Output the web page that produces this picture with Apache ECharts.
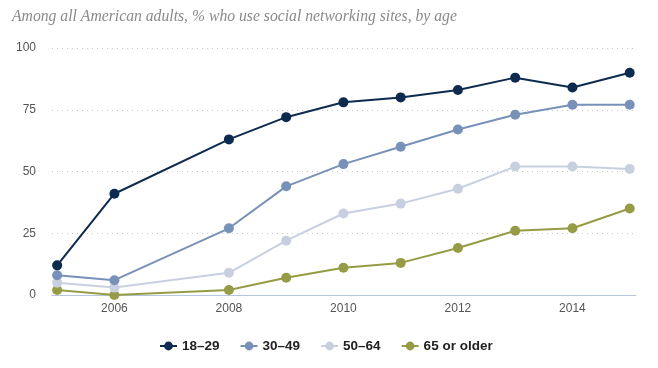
<!DOCTYPE html>
<html>
<head>
<meta charset="utf-8">
<script src="https://cdn.jsdelivr.net/npm/echarts@6/dist/echarts.min.js"></script>
<style>
html,body{margin:0;padding:0;background:#fff;}
#c{width:658px;height:368px;}
</style>
</head>
<body>
<div id="c"></div>
<script>
var titleText = "Among all American adults, % who use social networking sites, by age";
var years = [2005, 2006, 2008, 2009, 2010, 2011, 2012, 2013, 2014, 2015];
var xTickLabels = [2006, 2008, 2010, 2012, 2014];
var yTicks = [0, 25, 50, 75, 100];
var seriesNames = ["18–29", "30–49", "50–64", "65 or older"];
var age18_29 = [12, 41, 63, 72, 78, 80, 83, 88, 84, 90];
var age30_49 = [8, 6, 27, 44, 53, 60, 67, 73, 77, 77];
var age50_64 = [5, 3, 9, 22, 33, 37, 43, 52, 52, 51];
var age65plus = [2, 0, 2, 7, 11, 13, 19, 26, 27, 35];
var colors = ["#0d2b4e", "#7891b8", "#c8d0e0", "#959c45"];

var allValues = [age18_29, age30_49, age50_64, age65plus];
function pairs(vals){ return years.map(function(y,i){ return [y, vals[i]]; }); }

var chart = echarts.init(document.getElementById('c'), null, {renderer:'canvas'});
chart.setOption({
  animation: false,
  title: {
    text: titleText,
    left: 7, top: 4,
    textStyle: {fontFamily: "Liberation Serif", fontStyle: "italic", fontWeight: "normal", fontSize: 15.7, color: "#8a8a8a"}
  },
  legend: {
    left: 154, top: 334,
    itemWidth: 17, itemHeight: 11, itemGap: 20,
    textStyle: {fontFamily: "Liberation Sans", fontWeight: "bold", fontSize: 13.5, color: "#222"},
    data: seriesNames
  },
  grid: {left: 52, right: 22, top: 48, bottom: 73},
  xAxis: {
    type: 'value', min: 2004.91, max: 2015.11,
    axisLine: {show: true, lineStyle: {color: "#b5c7dc", width: 1}},
    axisTick: {show: false},
    splitLine: {show: false},
    axisLabel: {customValues: xTickLabels, formatter: function(v){return String(v);}, color: "#555", fontFamily: "Liberation Sans", fontSize: 12, margin: 8}
  },
  yAxis: {
    type: 'value', min: 0, max: 100, interval: 25,
    axisLine: {show: false}, axisTick: {show: false},
    splitLine: {show: true, lineStyle: {color: "#c8c8c8", type: [1, 4], width: 1}},
    axisLabel: {customValues: yTicks, color: "#555", fontFamily: "Liberation Sans", fontSize: 12, margin: 16}
  },
  series: seriesNames.map(function(n, i){
    return {
      name: n, type: 'line', data: pairs(allValues[i]),
      color: colors[i],
      symbol: 'circle', symbolSize: 10,
      lineStyle: {width: 2, color: colors[i]},
      itemStyle: {color: colors[i], borderWidth: 0},
      z: 10 - i
    };
  })
});
</script>
</body>
</html>
